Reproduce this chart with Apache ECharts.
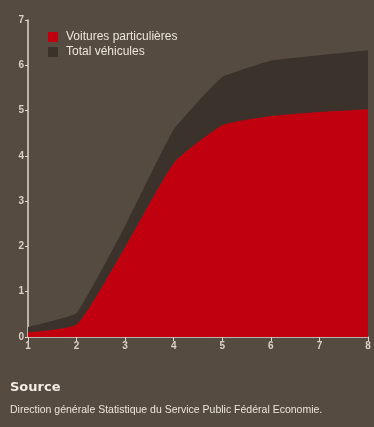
<!DOCTYPE html>
<html>
<head>
<meta charset="utf-8">
<script src="https://cdn.jsdelivr.net/npm/echarts@6/dist/echarts.min.js"></script>
<style>
  html, body { margin: 0; padding: 0; background: #564b40; }
  #chart { width: 374px; height: 427px; }
</style>
</head>
<body>
<div id="chart"></div>
<script>
const categories = ['1', '2', '3', '4', '5', '6', '7', '8']
const voitures = [0.1, 0.28, 2.0, 3.85, 4.68, 4.88, 4.97, 5.03]
const totalVehicules = [0.22, 0.53, 2.45, 4.58, 5.74, 6.1, 6.22, 6.33]
const yTicks = [0, 1, 2, 3, 4, 5, 6, 7]

const chart = echarts.init(document.getElementById('chart'))

const axisColor = '#e2d3cd'
const labelColor = '#dcd2c8'

const option = {
  backgroundColor: '#564b40',
  animation: false,
  textStyle: { fontFamily: 'Liberation Sans, Arial, sans-serif' },
  legend: {
    orient: 'vertical',
    left: 43,
    top: 26,
    itemWidth: 10,
    itemHeight: 10,
    itemGap: 3,
    icon: 'rect',
    textStyle: { color: '#ece4dc', fontSize: 12, padding: [0, 0, 0, 3] },
    data: ['Voitures particulières', 'Total véhicules']
  },
  grid: { left: 28, right: 6, top: 20, bottom: 90 },
  xAxis: {
    type: 'category',
    data: categories,
    boundaryGap: false,
    axisLine: { lineStyle: { color: axisColor, width: 1.5 } },
    axisTick: { show: true, length: 4, lineStyle: { color: axisColor } },
    axisLabel: { color: labelColor, fontSize: 10, fontWeight: 'bold', margin: 4 }
  },
  yAxis: {
    type: 'value',
    min: 0,
    max: 7,
    interval: 1,
    splitLine: { show: false },
    axisLine: { show: true, lineStyle: { color: axisColor, width: 1.5 } },
    axisTick: { show: true, length: 3, lineStyle: { color: axisColor } },
    axisLabel: {
      color: labelColor, fontSize: 10, fontWeight: 'bold', margin: 4,
      formatter: v => yTicks.includes(v) ? String(v) : ''
    }
  },
  series: [
    {
      name: 'Total véhicules',
      type: 'line',
      data: totalVehicules,
      symbol: 'none',
      smooth: 0.1,
      lineStyle: { width: 0 },
      itemStyle: { color: '#3a322b' },
      areaStyle: { color: '#3a322b', opacity: 1 },
      z: 1
    },
    {
      name: 'Voitures particulières',
      type: 'line',
      data: voitures,
      symbol: 'none',
      smooth: 0.15,
      lineStyle: { width: 0 },
      itemStyle: { color: '#c0000e' },
      areaStyle: { color: '#c0000e', opacity: 1 },
      z: 2
    }
  ],
  graphic: [
    {
      type: 'text',
      left: 10,
      top: 381,
      style: {
        text: 'Source',
        fill: '#f2ece6',
        font: 'bold 13px "DejaVu Sans", sans-serif'
      }
    },
    {
      type: 'text',
      left: 10,
      top: 405,
      style: {
        text: 'Direction générale Statistique du Service Public Fédéral Economie.',
        fill: '#ece4dc',
        font: '10.5px "Liberation Sans", Arial, sans-serif'
      }
    }
  ]
}

chart.setOption(option)
</script>
</body>
</html>
